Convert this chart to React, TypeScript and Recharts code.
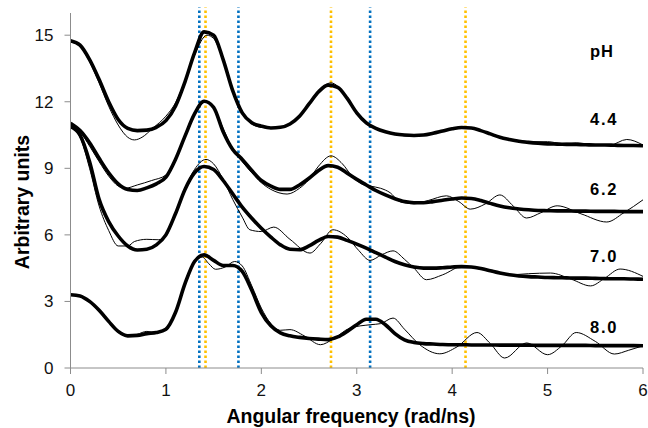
import { LineChart, Line, XAxis, YAxis, ReferenceLine } from "recharts";

// angular frequency grid for the fitted (thick) curves, rad/ns
const freq = [
  0, 0.1, 0.2, 0.3, 0.4, 0.5, 0.6, 0.7, 0.8, 0.9,
  1, 1.1, 1.2, 1.3, 1.4, 1.5, 1.6, 1.7, 1.8, 1.9,
  2, 2.1, 2.2, 2.3, 2.4, 2.5, 2.6, 2.7, 2.8, 2.9,
  3, 3.1, 3.2, 3.3, 3.4, 3.5, 3.6, 3.7, 3.8, 3.9,
  4, 4.1, 4.2, 4.3, 4.4, 4.5, 4.6, 4.7, 4.8, 4.9,
  5, 5.1, 5.2, 5.3, 5.4, 5.5, 5.6, 5.7, 5.8, 5.9, 6,
];

// fitted spectra, offset by pH (10, 7, 4, 1)
const fit44 = [
  14.75, 14.55, 13.9, 13.0, 12.0, 11.2, 10.8, 10.7, 10.72, 10.85,
  11.15, 11.8, 12.9, 14.2, 15.15, 15.0, 13.9, 12.5, 11.5, 11.05,
  10.9, 10.82, 10.85, 11.0, 11.35, 11.9, 12.45, 12.75, 12.65, 12.15,
  11.5, 11.05, 10.8, 10.65, 10.55, 10.5, 10.48, 10.5, 10.58, 10.68,
  10.78, 10.84, 10.82, 10.7, 10.55, 10.4, 10.3, 10.22, 10.17, 10.13,
  10.1, 10.09, 10.08, 10.07, 10.06, 10.05, 10.05, 10.04, 10.03, 10.03, 10.02,
];
const fit62 = [
  11.03, 10.7, 10.15, 9.45, 8.8, 8.3, 8.05, 8.0, 8.12, 8.3,
  8.6, 9.4, 10.45, 11.45, 12.02, 11.75, 10.65, 9.85, 9.4, 8.9,
  8.45, 8.2, 8.05, 8.05, 8.25, 8.55, 8.9, 9.12, 9.05, 8.78,
  8.5, 8.25, 8.0, 7.8, 7.63, 7.5, 7.45, 7.45, 7.5, 7.56,
  7.62, 7.66, 7.64, 7.55, 7.42, 7.3, 7.22, 7.17, 7.13, 7.1,
  7.09, 7.08, 7.08, 7.07, 7.07, 7.06, 7.06, 7.06, 7.05, 7.05, 7.05,
];
const fit70 = [
  10.88, 10.5, 9.3, 7.6, 6.6, 5.95, 5.5, 5.32, 5.35, 5.55,
  6.0, 6.95, 8.05, 8.8, 9.08, 8.95, 8.45, 7.85, 7.25, 6.75,
  6.3, 5.9, 5.55, 5.35, 5.33, 5.5, 5.75, 5.93, 5.9, 5.75,
  5.58, 5.4, 5.2, 5.0, 4.8, 4.65, 4.55, 4.5, 4.5, 4.52,
  4.55, 4.57, 4.55, 4.48, 4.38, 4.28, 4.2, 4.15, 4.12, 4.1,
  4.08, 4.07, 4.06, 4.05, 4.05, 4.04, 4.03, 4.02, 4.02, 4.01, 4.0,
];
const fit80 = [
  3.3, 3.25, 3.0, 2.6, 2.1, 1.65, 1.45, 1.47, 1.55, 1.6,
  1.75, 2.5, 3.8, 4.8, 5.1, 4.85, 4.62, 4.62, 4.35, 3.5,
  2.5, 1.9, 1.58, 1.45, 1.38, 1.33, 1.3, 1.28, 1.4, 1.65,
  1.95, 2.2, 2.2, 1.95, 1.55, 1.27, 1.15, 1.1, 1.08, 1.06,
  1.05, 1.05, 1.04, 1.04, 1.04, 1.03, 1.03, 1.03, 1.03, 1.02,
  1.02, 1.02, 1.02, 1.02, 1.02, 1.01, 1.01, 1.01, 1.01, 1.01, 1.0,
];

// measured spectra as [frequency, amplitude]
const raw44: [number, number][] = [
  [0, 14.7], [0.1, 14.5], [0.2, 13.8], [0.3, 12.85], [0.4, 11.8], [0.5, 10.95],
  [0.6, 10.4], [0.67, 10.28], [0.75, 10.4], [0.86, 10.8], [1.0, 11.35], [1.1, 11.95],
  [1.2, 12.95], [1.3, 14.1], [1.43, 15.0], [1.5, 14.85], [1.6, 13.85], [1.7, 12.5],
  [1.8, 11.5], [1.9, 11.0], [2.0, 10.85], [2.15, 10.8], [2.3, 11.0], [2.4, 11.4],
  [2.5, 11.95], [2.6, 12.5], [2.73, 12.85], [2.8, 12.7], [2.9, 12.1], [3.0, 11.45],
  [3.1, 11.0], [3.2, 10.78], [3.35, 10.6], [3.55, 10.45], [3.75, 10.55], [3.95, 10.72],
  [4.14, 10.86], [4.3, 10.72], [4.5, 10.4], [4.7, 10.25], [4.85, 10.2], [5.0, 10.2],
  [5.15, 10.12], [5.3, 10.15], [5.45, 10.08], [5.65, 10.04], [5.83, 10.3], [6.0, 10.05],
];
const raw62: [number, number][] = [
  [0, 10.95], [0.1, 10.65], [0.2, 10.0], [0.3, 9.3], [0.4, 8.65], [0.5, 8.2],
  [0.57, 8.1], [0.7, 8.25], [0.85, 8.45], [1.0, 8.7], [1.1, 9.4], [1.2, 10.4],
  [1.3, 11.4], [1.42, 12.0], [1.5, 11.75], [1.6, 10.8], [1.7, 9.85], [1.8, 9.3],
  [1.9, 8.8], [2.0, 8.35], [2.1, 8.05], [2.27, 7.84], [2.4, 8.1], [2.5, 8.5],
  [2.6, 9.1], [2.73, 9.56], [2.85, 9.2], [2.95, 8.65], [3.05, 8.3], [3.14, 8.2],
  [3.25, 8.1], [3.35, 7.9], [3.45, 7.5], [3.6, 7.4], [3.75, 7.55], [3.94, 7.76],
  [4.07, 7.5], [4.19, 7.16], [4.35, 7.4], [4.5, 7.8], [4.64, 7.3], [4.78, 6.76],
  [4.93, 7.0], [5.1, 7.31], [5.35, 6.95], [5.62, 6.58], [5.8, 7.0], [6.0, 7.58],
];
const raw70: [number, number][] = [
  [0, 10.85], [0.1, 10.4], [0.2, 9.0], [0.3, 7.3], [0.4, 6.2], [0.5, 5.5],
  [0.6, 5.5], [0.67, 5.7], [0.8, 5.8], [0.92, 5.78], [1.0, 5.95], [1.1, 6.95],
  [1.2, 8.1], [1.3, 8.95], [1.42, 9.4], [1.5, 9.2], [1.6, 8.5], [1.7, 7.6],
  [1.8, 6.8], [1.88, 6.23], [2.0, 6.15], [2.13, 6.35], [2.3, 5.8], [2.51, 5.18],
  [2.62, 5.6], [2.75, 6.23], [2.9, 5.9], [3.02, 5.3], [3.14, 4.85], [3.26, 5.1],
  [3.38, 5.28], [3.5, 4.9], [3.6, 4.5], [3.73, 3.98], [3.9, 4.2], [4.12, 4.6],
  [4.3, 4.45], [4.6, 4.2], [4.8, 4.25], [5.03, 4.28], [5.25, 4.0], [5.45, 3.7],
  [5.6, 4.05], [5.76, 4.46], [6.0, 4.13],
];
const raw80: [number, number][] = [
  [0, 3.3], [0.1, 3.22], [0.2, 2.95], [0.3, 2.55], [0.4, 2.05], [0.5, 1.6],
  [0.6, 1.42], [0.7, 1.52], [0.8, 1.65], [0.9, 1.6], [1.0, 1.8], [1.1, 2.55],
  [1.2, 3.85], [1.3, 4.8], [1.38, 5.0], [1.45, 4.7], [1.52, 4.45], [1.62, 4.55],
  [1.72, 4.8], [1.8, 4.6], [1.9, 3.7], [2.0, 2.7], [2.1, 2.0], [2.2, 1.7],
  [2.3, 1.73], [2.45, 1.45], [2.62, 1.05], [2.75, 1.3], [2.93, 1.8], [3.14, 1.95],
  [3.25, 2.0], [3.38, 2.25], [3.5, 1.75], [3.66, 1.05], [3.87, 0.64], [4.05, 0.95],
  [4.26, 1.6], [4.4, 1.1], [4.55, 0.45], [4.78, 1.13], [5.0, 0.6], [5.15, 1.0],
  [5.3, 1.6], [5.5, 1.2], [5.7, 0.63], [5.85, 0.8], [6.0, 1.0],
];

// marker frequencies
const blueMarks = [1.35, 1.76, 3.14];
const orangeMarks = [1.415, 2.73, 4.14];

const xTicks = [0, 1, 2, 3, 4, 5, 6];
const yTicks = [0, 3, 6, 9, 12, 15];
const phLabels = ["4.4", "6.2", "7.0", "8.0"];

const FONT = "'Liberation Sans', Arial, Helvetica, sans-serif";
const AXIS = "#8c8c8c";

const fitData = (ys: number[]) => freq.map((f, i) => ({ f, v: ys[i] }));
const rawData = (pts: [number, number][]) => pts.map(([f, v]) => ({ f, v }));

const fits = [fit44, fit62, fit70, fit80];
const raws = [raw44, raw62, raw70, raw80];

// label baselines (px) for the pH column
const phY = [125, 195, 262, 333];

export default function App() {
  return (
    <div style={{ position: "absolute", left: 0, top: 0, width: 648, height: 428, background: "#fff" }}>
      <LineChart width={648} height={428} margin={{ top: 13, right: 5, bottom: 0, left: 0 }}>
        <XAxis
          dataKey="f"
          type="number"
          domain={[0, 6]}
          ticks={xTicks}
          allowDataOverflow
          height={60}
          stroke={AXIS}
          tickSize={6}
          tickMargin={10}
          tick={{ fill: "#111", fontSize: 17, fontFamily: FONT }}
          tickLine={{ stroke: AXIS }}
        />
        <YAxis
          type="number"
          domain={[0, 16]}
          ticks={yTicks}
          allowDataOverflow
          width={70.5}
          stroke={AXIS}
          tickSize={6}
          tickMargin={11}
          tick={{ fill: "#111", fontSize: 17, fontFamily: FONT }}
          tickLine={{ stroke: AXIS }}
        />
        {blueMarks.map((x) => (
          <ReferenceLine
            key={"b" + x}
            segment={[{ x, y: 0 }, { x, y: 16.25 }]}
            ifOverflow="visible"
            stroke="#0070c0"
            strokeWidth={2.6}
            strokeDasharray="2.5 2.5"
          />
        ))}
        {orangeMarks.map((x) => (
          <ReferenceLine
            key={"o" + x}
            segment={[{ x, y: 0 }, { x, y: 16.25 }]}
            ifOverflow="visible"
            stroke="#ffc000"
            strokeWidth={2.6}
            strokeDasharray="2.5 2.5"
          />
        ))}
        {raws.map((pts, i) => (
          <Line
            key={"raw" + i}
            data={rawData(pts)}
            dataKey="v"
            type="monotone"
            stroke="#000"
            strokeWidth={1}
            dot={false}
            activeDot={false}
            isAnimationActive={false}
          />
        ))}
        {fits.map((ys, i) => (
          <Line
            key={"fit" + i}
            data={fitData(ys)}
            dataKey="v"
            type="monotone"
            stroke="#000"
            strokeWidth={3.6}
            dot={false}
            activeDot={false}
            isAnimationActive={false}
          />
        ))}
      </LineChart>
      <svg
        width={648}
        height={428}
        style={{ position: "absolute", left: 0, top: 0, pointerEvents: "none" }}
        fontFamily={FONT}
        fontWeight="bold"
      >
        <text x={351} y={423} textAnchor="middle" fontSize={19.5} fill="#000">
          Angular frequency (rad/ns)
        </text>
        <text transform="translate(29,202) rotate(-90)" textAnchor="middle" fontSize={19.5} fill="#000">
          Arbitrary units
        </text>
        <text x={590} y={57} fontSize={16.5} fill="#000" letterSpacing={1}>
          pH
        </text>
        {phLabels.map((t, i) => (
          <text key={t} x={590} y={phY[i]} fontSize={16.5} fill="#000" letterSpacing={1.8}>
            {t}
          </text>
        ))}
      </svg>
    </div>
  );
}
